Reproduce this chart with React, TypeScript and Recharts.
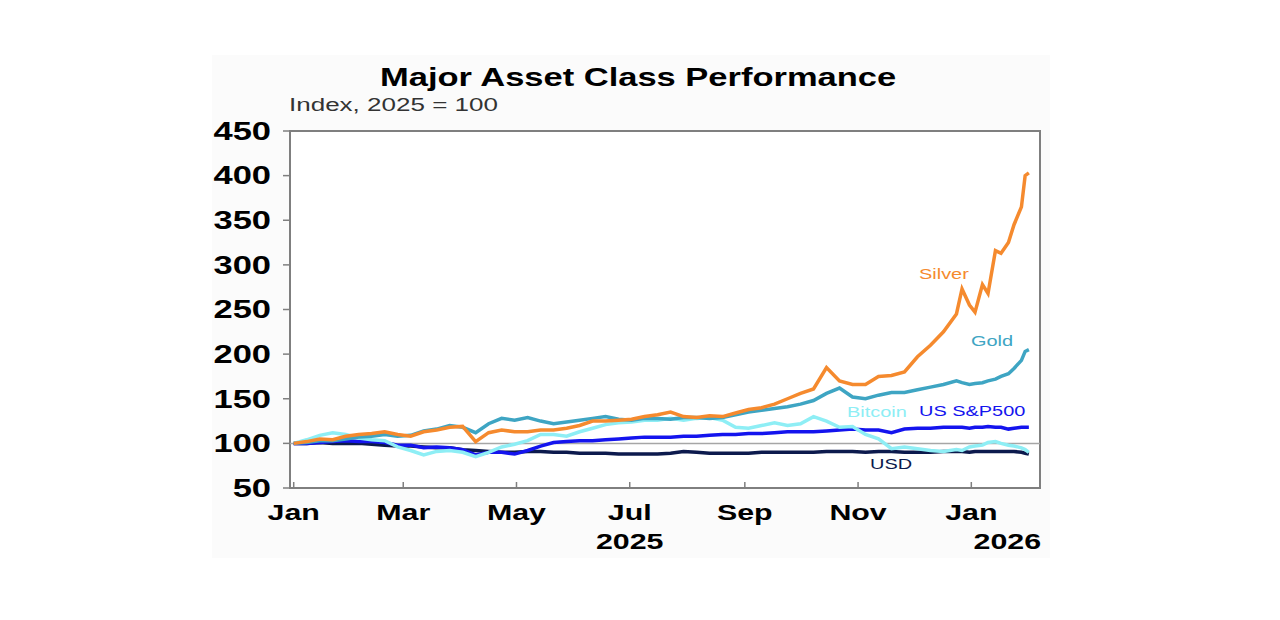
import React from "react";
import {
  LineChart,
  Line,
  XAxis,
  YAxis,
  ReferenceLine,
  ReferenceArea,
} from "recharts";

// days since 1 Jan 2025, weekly, denser over the last weeks
const days = [
  0, 7, 14, 21, 28, 35, 42, 49, 56, 63, 70, 77, 84, 91, 98, 105, 112, 119, 126,
  133, 140, 147, 154, 161, 168, 175, 182, 189, 196, 203, 210, 217, 224, 231,
  238, 245, 252, 259, 266, 273, 280, 287, 294, 301, 308, 315, 322, 329, 336,
  343, 350, 357, 360, 364, 367, 371, 374, 378, 381, 385, 388, 392, 394, 396,
];

const silver = [
  100, 102, 105, 104, 108, 110, 111, 113, 110, 108, 113, 115, 118, 119, 102,
  112, 115, 113, 113, 115, 115, 117, 120, 125, 125, 126, 127, 130, 132, 135,
  130, 129, 131, 130, 134, 138, 140, 144, 150, 156, 161, 185, 170, 166, 166,
  175, 176, 180, 197, 210, 225, 245, 273, 255, 247, 278, 268, 316, 313, 325,
  345, 365, 400, 403,
];

const gold = [
  100, 101, 103, 103, 105, 107, 108, 110, 108, 109, 114, 116, 120, 118, 112,
  122, 128, 126, 129, 125, 122, 124, 126, 128, 130, 127, 126, 128, 128, 127,
  129, 129, 128, 129, 132, 135, 137, 139, 141, 144, 148, 156, 162, 152, 150,
  154, 157, 157, 160, 163, 166, 170, 168, 166, 167, 168, 170, 172, 175, 178,
  184, 193, 203, 205,
];

const bitcoin = [
  100, 104, 109, 112, 110, 106, 104, 103, 96, 92, 87, 91, 92, 90, 85, 90, 96,
  99, 103, 110, 110, 108, 113, 117, 121, 123, 124, 126, 126, 128, 126, 128,
  129, 126, 118, 117, 120, 123, 120, 122, 130, 125, 118, 119, 110, 105, 94, 96,
  94, 92, 91, 93, 92, 96, 97, 98, 101, 102, 100, 98, 97, 95, 93, 90,
];

const sp500 = [
  100, 100, 101, 102, 103, 102, 102, 101, 98, 98, 95, 96, 95, 93, 87, 90, 90,
  88, 92, 97, 101, 102, 103, 103, 104, 105, 106, 107, 107, 107, 108, 108, 109,
  110, 110, 111, 111, 112, 113, 113, 113, 114, 115, 116, 115, 115, 112, 116,
  117, 117, 118, 118, 118, 117, 118, 118, 119, 118, 118, 116, 117, 118, 118,
  118,
];

const usd = [
  100, 100, 101, 100, 100, 100, 99, 98, 97, 97, 96, 95, 95, 93, 92, 91, 90, 90,
  91, 91, 90, 90, 89, 89, 89, 88, 88, 88, 88, 89, 91, 90, 89, 89, 89, 89, 90,
  90, 90, 90, 90, 91, 91, 91, 90, 91, 91, 90, 90, 90, 91, 91, 91, 90, 91, 91,
  91, 91, 91, 91, 91, 90, 89, 88,
];

const monthTicks = [0, 59, 120, 181, 243, 304, 365];
const monthLabels = ["Jan", "Mar", "May", "Jul", "Sep", "Nov", "Jan"];
const yearLabels: Record<number, string> = { 181: "2025", 365: "2026" };
const yTicks = [50, 100, 150, 200, 250, 300, 350, 400, 450];

const data = days.map((d, i) => ({
  day: d,
  silver: silver[i],
  gold: gold[i],
  bitcoin: bitcoin[i],
  sp500: sp500[i],
  usd: usd[i],
}));

const FONT = "'Liberation Sans', Arial, sans-serif";
const SX = 1.38; // the source text is stretched wide
const AXIS = "#7f7f7f";

const YTick = (props: any) => {
  const { x, y, payload } = props;
  return (
    <g transform={`translate(${x},${y}) scale(${SX},1)`}>
      <text
        textAnchor="end"
        dy="0.35em"
        fontFamily={FONT}
        fontWeight="bold"
        fontSize={25}
        fill="#000"
      >
        {payload.value}
      </text>
    </g>
  );
};

const XTick = (props: any) => {
  const { x, y, payload } = props;
  const i = monthTicks.indexOf(payload.value);
  const year = yearLabels[payload.value];
  return (
    <g>
      <line x1={x} x2={x} y1={y} y2={y - 6} stroke={AXIS} strokeWidth={1.5} />
      <g transform={`translate(${x},${y + 32}) scale(${SX},1)`}>
        <text
          textAnchor="middle"
          fontFamily={FONT}
          fontWeight="bold"
          fontSize={22}
          fill="#000"
        >
          {monthLabels[i]}
        </text>
      </g>
      {year && (
        <g
          transform={`translate(${payload.value === 365 ? x + 36 : x},${
            y + 61
          }) scale(${SX},1)`}
        >
          <text
            textAnchor="middle"
            fontFamily={FONT}
            fontWeight="bold"
            fontSize={22}
            fill="#000"
          >
            {year}
          </text>
        </g>
      )}
    </g>
  );
};

const Label = ({
  x,
  y,
  text,
  color,
  size = 15,
  bold = false,
  scale = 1.33,
}: {
  x: number;
  y: number;
  text: string;
  color: string;
  size?: number;
  bold?: boolean;
  scale?: number;
}) => (
  <g transform={`translate(${x},${y}) scale(${scale},1)`}>
    <text
      fontFamily={FONT}
      fontSize={size}
      fontWeight={bold ? "bold" : "normal"}
      fill={color}
    >
      {text}
    </text>
  </g>
);

export default function App() {
  return (
    <div
      style={{
        position: "absolute",
        left: 0,
        top: 0,
        width: 1280,
        height: 620,
        background: "#fff",
      }}
    >
      <div
        style={{
          position: "absolute",
          left: 212,
          top: 55,
          width: 838,
          height: 503,
          background: "#fbfbfb",
        }}
      />
      <div style={{ position: "absolute", left: 0, top: 0 }}>
        <LineChart
          width={1280}
          height={620}
          data={data}
          margin={{ top: 131, right: 240, left: 0, bottom: 0 }}
        >
          <ReferenceArea
            x1={-2}
            x2={402}
            y1={50}
            y2={450}
            fill="#fff"
            fillOpacity={1}
            stroke={AXIS}
            strokeWidth={2}
          />
          <XAxis
            dataKey="day"
            type="number"
            domain={[-2, 402]}
            ticks={monthTicks}
            height={132}
            axisLine={false}
            tickLine={false}
            tickSize={0}
            tickMargin={0}
            tick={XTick}
            interval={0}
          />
          <YAxis
            type="number"
            domain={[50, 450]}
            ticks={yTicks}
            width={290}
            axisLine={false}
            tickLine={{ stroke: AXIS, strokeWidth: 1.5 }}
            tickSize={7}
            tickMargin={12}
            tick={YTick}
            interval={0}
          />
          <ReferenceLine y={100} stroke="#a6a6a6" strokeWidth={1.5} />
          <Line
            dataKey="usd"
            stroke="#0c1a4d"
            strokeWidth={3.5}
            dot={false}
            isAnimationActive={false}
          />
          <Line
            dataKey="sp500"
            stroke="#1414ee"
            strokeWidth={3.5}
            dot={false}
            isAnimationActive={false}
          />
          <Line
            dataKey="bitcoin"
            stroke="#8eeef5"
            strokeWidth={3.5}
            dot={false}
            isAnimationActive={false}
          />
          <Line
            dataKey="gold"
            stroke="#3ea5c3"
            strokeWidth={3.5}
            dot={false}
            isAnimationActive={false}
          />
          <Line
            dataKey="silver"
            stroke="#f58a2e"
            strokeWidth={3.5}
            dot={false}
            isAnimationActive={false}
          />
        </LineChart>
      </div>
      <svg
        width={1280}
        height={620}
        style={{ position: "absolute", left: 0, top: 0, pointerEvents: "none" }}
      >
        <Label
          x={380}
          y={86}
          text="Major Asset Class Performance"
          color="#000"
          size={25}
          bold
          scale={SX}
        />
        <Label
          x={289}
          y={111}
          text="Index, 2025 = 100"
          color="#333"
          size={19}
          scale={1.37}
        />
        <Label x={919} y={279} text="Silver" color="#f58a2e" />
        <Label x={971} y={346} text="Gold" color="#3ea5c3" />
        <Label x={847} y={417} text="Bitcoin" color="#8eeef5" />
        <Label x={919} y={416} text="US S&P500" color="#1414ee" />
        <Label x={870} y={469} text="USD" color="#0c1a4d" />
      </svg>
    </div>
  );
}
